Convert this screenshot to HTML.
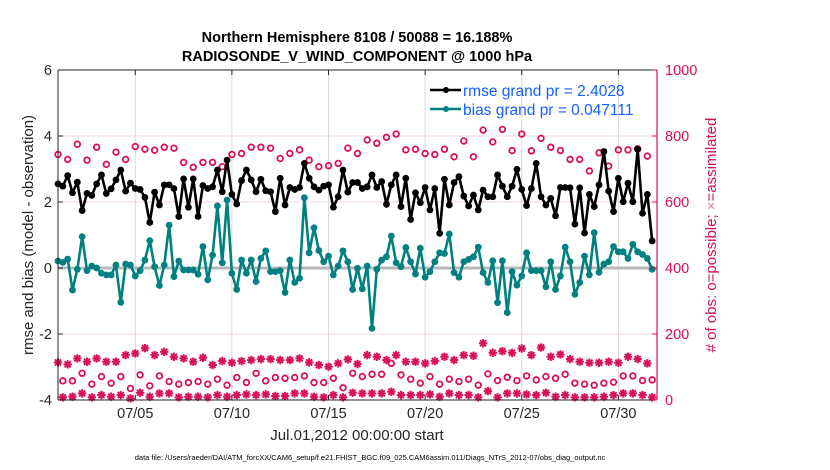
<!DOCTYPE html>
<html><head><meta charset="utf-8"><style>
html,body{margin:0;padding:0;background:#fff;}
svg{display:block;font-family:"Liberation Sans",sans-serif;}
</style></head><body>
<svg id="chart" width="830" height="470" viewBox="0 0 830 470">
<rect x="0" y="0" width="830" height="470" fill="#fff"/>
<text x="357" y="42" text-anchor="middle" font-size="14.5" font-weight="bold">Northern Hemisphere 8108 / 50088 = 16.188%</text>
<text x="357" y="61" text-anchor="middle" font-size="14.5" font-weight="bold">RADIOSONDE_V_WIND_COMPONENT @ 1000 hPa</text>
<g id="grid"></g>
<g id="marks"></g>
<g id="axes"></g>
<text x="0" y="0" transform="translate(33,235) rotate(-90)" text-anchor="middle" font-size="15" fill="#262626">rmse and bias (model - observation)</text>
<text x="0" y="0" transform="translate(716,235) rotate(-90)" text-anchor="middle" font-size="15" fill="#d0105a"># of obs: o=possible; <tspan fill="#e67aa0">×</tspan>=assimilated</text>
<text x="357" y="440" text-anchor="middle" font-size="15" fill="#262626">Jul.01,2012 00:00:00 start</text>
<text x="370" y="460" text-anchor="middle" font-size="7.5" fill="#000">data file: /Users/raeder/DAI/ATM_forcXX/CAM6_setup/f.e21.FHIST_BGC.f09_025.CAM6assim.011/Diags_NTrS_2012-07/obs_diag_output.nc</text>
<g>
<g>
<line x1="430" y1="90" x2="461" y2="90" stroke="#000" stroke-width="2.5"/><circle cx="446" cy="90" r="3" fill="#000"/>
<text x="463" y="96" font-size="15.5" fill="#1560ff">rmse grand pr = 2.4028</text></g>
<g>
<line x1="430" y1="109" x2="461" y2="109" stroke="#008080" stroke-width="2.5"/><circle cx="446" cy="109" r="3" fill="#008080"/>
<text x="463" y="115" font-size="15.5" fill="#1560ff">bias grand pr = 0.047111</text></g>
</g>
</svg>
<script>
const dateTicks = ["07/05","07/10","07/15","07/20","07/25","07/30"];
const dateTickDays = [4,9,14,19,24,29];
const leftTicks = [6,4,2,0,-2,-4];
const rightTicks = [1000,800,600,400,200,0];
const rmse = [2.55,2.48,2.8,2.28,2.6,1.74,2.26,2.2,2.55,2.82,
2.26,2.4,2.67,2.97,2.33,2.57,2.41,2.38,2.14,1.38,
2.3,1.91,2.52,2.52,2.41,1.56,2.7,1.84,2.7,1.56,
2.5,2.41,2.46,2.97,2.31,3.27,2.23,1.94,2.65,2.97,
2.67,2.31,2.69,2.34,2.31,1.71,2.72,1.91,2.44,2.38,
2.44,3.17,2.72,2.46,2.36,2.48,2.52,1.84,2.16,2.97,
2.3,2.59,2.59,2.41,2.46,2.82,2.44,2.62,1.93,2.52,
2.82,1.86,2.72,1.47,2.28,1.98,2.44,1.76,2.41,1.05,
2.69,1.91,2.59,2.77,2.18,1.88,2.21,1.76,2.36,2.16,
2.16,2.82,2.48,2.16,2.48,2.99,2.38,1.89,2.41,3.17,
2.16,1.91,2.11,1.58,2.44,2.44,2.43,1.33,2.43,1.06,
2.23,1.86,2.52,3.53,2.33,1.71,2.72,2.01,2.57,2.01,
3.6,1.66,2.23,0.82];
const bias = [0.21,0.17,0.27,-0.67,-0.04,0.95,-0.08,0.06,0,-0.16,
-0.21,-0.21,0.09,-1.04,0.12,0.09,-0.24,-0.08,0.24,0.83,
0.04,-0.53,0.09,1.3,-0.26,0.21,-0.06,-0.06,-0.06,-0.19,
0.65,-0.36,0.39,1.88,0.16,2.06,-0.16,-0.65,0.24,-0.16,
0.24,-0.41,0.29,0.52,-0.11,-0.11,-0.08,-0.74,0.24,-0.44,
-0.31,2.13,0.46,1.22,0.53,0.19,0.36,-0.21,0.06,0.52,
0.19,-0.65,-0.01,-0.63,0.06,-1.83,-0.04,0.24,0.34,0.97,
0.16,0.04,0.62,0.19,-0.18,0.6,-0.28,-0.11,0.19,0.46,
0.44,1.03,-0.14,-0.28,0.19,0.26,0.34,0.63,-0.14,-0.44,
0.22,-1.05,0.22,-1.35,-0.11,-0.52,-0.24,0.46,-0.08,-0.08,
-0.08,-0.57,0.19,-0.65,-0.24,0.63,0.19,-0.8,-0.44,0.36,
-0.21,1.07,-0.13,0.12,0.19,0.65,0.49,0.49,0.29,0.72,
0.49,0.41,0.29,-0.04];
const possible = [744,58,729,58,775,81,727,48,766,71,714,51,751,71,729,35,768,76,760,43,
757,73,766,56,763,48,720,53,705,56,720,48,720,63,707,45,744,68,747,53,
766,81,766,58,763,68,732,66,747,68,758,73,727,53,707,53,710,66,717,37,
763,81,747,71,788,78,778,78,796,111,806,76,758,63,760,51,747,71,744,48,
760,63,737,56,785,63,737,45,818,79,782,59,820,69,756,59,806,73,755,61,
793,71,766,66,756,78,729,51,729,48,694,45,749,51,709,54,758,73,758,73,
761,59,739,61];
const assimilated = [114,8,108,10,126,20,116,8,126,15,116,10,116,15,136,5,141,22,157,10,
136,20,146,20,131,8,126,10,116,10,128,8,106,15,118,10,113,15,118,17,
121,15,124,17,124,12,121,12,121,20,126,20,114,10,106,8,101,15,111,8,
123,22,109,20,136,20,131,20,121,25,136,15,116,15,116,15,111,17,118,10,
131,20,121,15,136,15,134,8,172,27,143,8,148,20,143,20,156,17,136,15,
159,22,131,10,138,15,124,8,116,8,113,8,113,10,116,15,113,20,131,20,
124,15,111,8];
const stepDays = 0.25;

const NS="http://www.w3.org/2000/svg";
const L=58,R=657,T=70,B=400,DAYS=31;
const xs=d=>L+(R-L)*d/DAYS;
const yl=v=>B-(v+4)/10*(B-T);
const yr=c=>B-c/1000*(B-T);
function mk(tag,attrs,parent){const e=document.createElementNS(NS,tag);for(const k in attrs)e.setAttribute(k,attrs[k]);parent.appendChild(e);return e;}
const grid=document.getElementById('grid'),marks=document.getElementById('marks'),axes=document.getElementById('axes');
mk('rect',{x:L,y:T,width:R-L,height:B-T,fill:'#fff'},grid);
rightTicks.forEach(c=>{if(c>0&&c<1000){const l=mk('line',{x1:L,x2:R,y1:yr(c),y2:yr(c),stroke:'#f0d6e0','stroke-width':1},grid);

}});
dateTickDays.forEach(d=>{const l=mk('line',{x1:xs(d),x2:xs(d),y1:T,y2:B,stroke:'#d9d9d9','stroke-width':1},grid);

});
const z=mk('line',{x1:L,x2:R,y1:yl(0),y2:yl(0),stroke:'#b8b8b8','stroke-width':3},grid);


const CR='#d8105a';
function star(cx,cy,parent){const s=4.2;const g=mk('g',{stroke:CR,'stroke-width':2},parent);
[[0,s],[s,0],[s*0.72,s*0.72],[s*0.72,-s*0.72]].forEach(([a,b])=>mk('line',{x1:cx-a,y1:cy-b,x2:cx+a,y2:cy+b},g));return g;}
possible.forEach((c,i)=>{const e=mk('circle',{cx:xs(i*stepDays),cy:yr(c),r:2.8,fill:'none',stroke:CR,'stroke-width':1.8},marks);

});
assimilated.forEach((c,i)=>{const e=star(xs(i*stepDays),yr(c),marks);

});
function series(vals,col,name){const p=mk('polyline',{points:vals.map((v,i)=>xs(i*stepDays)+','+yl(v)).join(' '),fill:'none',stroke:col,'stroke-width':2.6,'stroke-linejoin':'round'},marks);


vals.forEach((v,i)=>{const c=mk('circle',{cx:xs(i*stepDays),cy:yl(v),r:3.4,fill:col},marks);

});}
series(bias,'#008080','bias');
series(rmse,'#000000','rmse');
mk('line',{x1:L,x2:R,y1:T,y2:T,stroke:'#262626','stroke-width':1},axes);
mk('line',{x1:L,x2:R,y1:B,y2:B,stroke:'#262626','stroke-width':1},axes);
mk('line',{x1:L,x2:L,y1:T,y2:B,stroke:'#262626','stroke-width':1},axes);
mk('line',{x1:R,x2:R,y1:T,y2:B,stroke:CR,'stroke-width':1.2},axes);
leftTicks.forEach(v=>{mk('line',{x1:L,x2:L+5,y1:yl(v),y2:yl(v),stroke:'#262626'},axes);
const t=mk('text',{x:L-6,y:yl(v)+5,'text-anchor':'end','font-size':14.5,fill:'#262626'},axes);t.textContent=v;

});
rightTicks.forEach(c=>{mk('line',{x1:R-5,x2:R,y1:yr(c),y2:yr(c),stroke:CR},axes);
const t=mk('text',{x:R+8,y:yr(c)+5,'font-size':14.5,fill:CR},axes);t.textContent=c;

});
dateTicks.forEach((lab,i)=>{const x=xs(dateTickDays[i]);mk('line',{x1:x,x2:x,y1:B,y2:B-5,stroke:'#262626'},axes);mk('line',{x1:x,x2:x,y1:T,y2:T+5,stroke:'#262626'},axes);
const t=mk('text',{x:x,y:B+18,'text-anchor':'middle','font-size':14.5,fill:'#262626'},axes);t.textContent=lab;

});
</script>
</body></html>
